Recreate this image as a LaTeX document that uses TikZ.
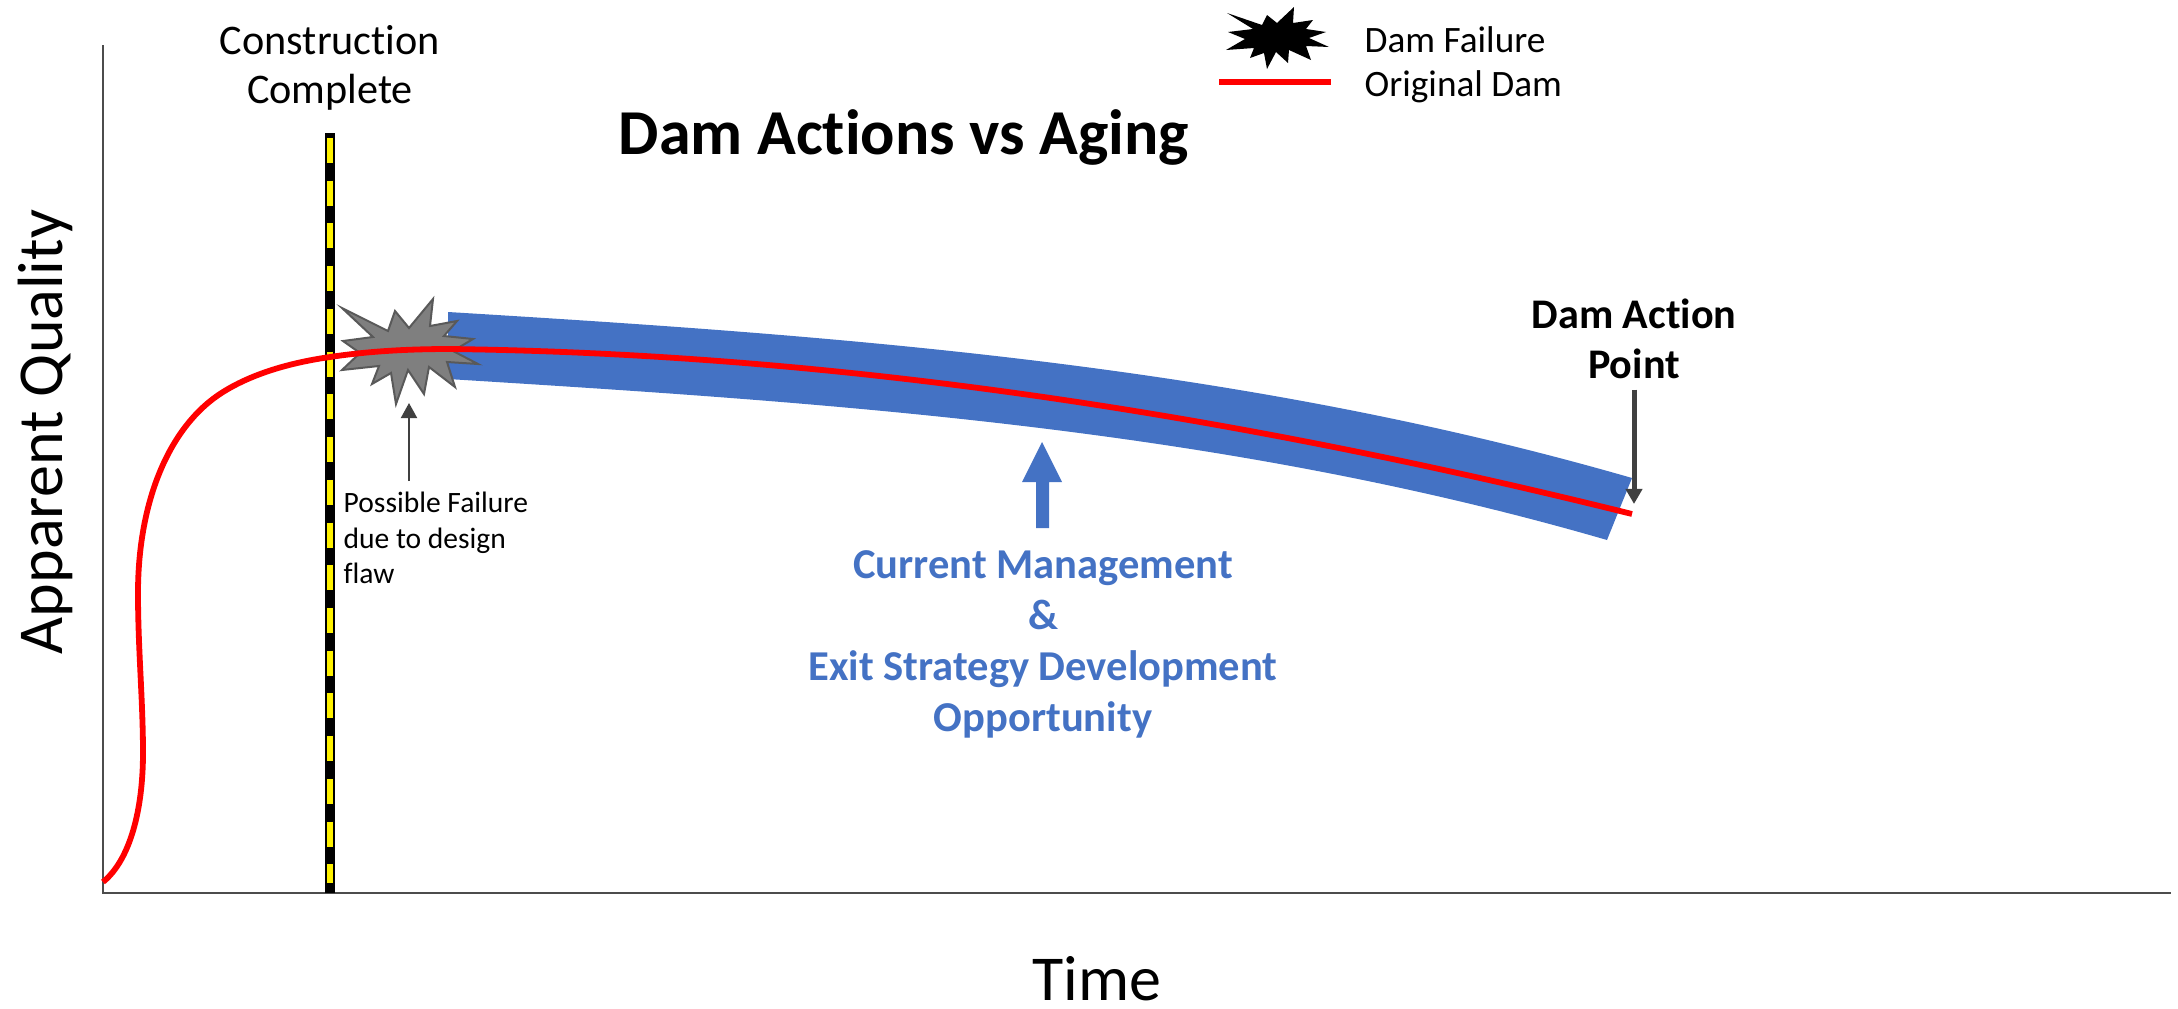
\documentclass[tikz,border=0pt]{standalone}
\usepackage{fontspec}
\setmainfont{Carlito}[Ligatures=NoCommon]
\usetikzlibrary{arrows.meta}
\definecolor{bandblue}{HTML}{4472C4}
\definecolor{burstgray}{HTML}{7F7F7F}
\definecolor{burstedge}{HTML}{595959}
\definecolor{arrowgray}{HTML}{404040}
\tikzset{
    axisline/.style={draw=black!70, line width=0.018cm},
    damline/.style={draw=red, line width=0.058cm},
    callout/.style={draw=arrowgray, -{Triangle[length=0.15cm, width=0.16cm]}},
    bluetext/.style={text=bandblue, font=\fontsize{12.1}{14.5}\selectfont\bfseries, align=center},
    plaintext/.style={font=\fontsize{12}{14}\selectfont, align=center, inner sep=0pt},
}
\begin{document}
\begin{tikzpicture}[x=0.01cm, y=-0.01cm]
        \useasboundingbox (0,0) rectangle (2178,1009);

        \coordinate (top) at (103,45);
        \coordinate (origin) at (103,893);
        \coordinate (right) at (2171,893);
        \coordinate (bartop) at (330,133);
        \coordinate (barbot) at (330,893);
        \coordinate (dashtop) at (330,138);
        \coordinate (dashbot) at (330,883);
        \coordinate (legendL) at (1219,82);
        \coordinate (legendR) at (1331,82);
        \coordinate (bursttip) at (409,403);
        \coordinate (actiontip) at (1634,504);

        % axes
        \draw[axisline] (top) -- (origin) -- (right);

        % construction marker
        \draw[black, line width=0.108cm] (bartop) -- (barbot);
        \draw[yellow, line width=0.066cm, dash pattern=on 0.25cm off 0.177cm] (dashtop) -- (dashbot);

        % action band
        \fill[bandblue] (448,312) .. controls (843,336) and (1237,364) .. (1632,478)
            -- (1607,540) .. controls (1221,428) and (834,403) .. (448,379) -- cycle;

        % failure bursts
        \draw[fill=burstgray, draw=burstedge, line width=0.02cm, miter limit=8]
            (342,308) -- (388,331) -- (395,311) -- (409,328) -- (433,299) -- (430,326) -- (457,321)
            -- (444,336) -- (473,339) -- (453,351) -- (478,364) -- (447,362) -- (455,387) -- (429,367)
            -- (424,394) -- (408,370) -- (396,404) -- (391,373) -- (372,384) -- (379,366) -- (342,370)
            -- (360,353) -- (343,341) -- (373,337) -- cycle;
        \fill[black]
            (1227,13) -- (1262,25) -- (1267,15) -- (1277,23) -- (1294,7) -- (1293,23) -- (1313,20)
            -- (1306,29) -- (1326,32) -- (1309,38) -- (1329,47) -- (1306,46) -- (1311,60) -- (1289,50)
            -- (1288,63) -- (1276,52) -- (1267,69) -- (1264,53) -- (1250,58) -- (1254,48) -- (1226,50)
            -- (1245,39) -- (1228,32) -- (1253,29) -- cycle;

        % original dam
        \draw[damline] (103,882) .. controls (130,860) and (143,810) .. (143,753)
            .. controls (143,700) and (138,650) .. (138,593)
            .. controls (138,500) and (170,425) .. (223,392)
            .. controls (255,372) and (295,362) .. (330,357)
            .. controls (370,351) and (410,349) .. (450,349)
            .. controls (844,354) and (1238,416) .. (1632,514);
        \draw[damline] (legendL) -- (legendR);

        % labels
        \node[plaintext] (construction) at (330,68) {Construction\\Complete};
        \node[font=\fontsize{18.2}{20}\selectfont\bfseries] (title) at (904,137) {Dam Actions vs Aging};
        \node[font=\fontsize{10.6}{12}\selectfont, anchor=west, inner sep=0pt] (failure) at (1364,40) {Dam Failure};
        \node[font=\fontsize{10.6}{12}\selectfont, anchor=west, inner sep=0pt] (original) at (1364,87) {Original Dam};
        \node[font=\fontsize{8.4}{10.2}\selectfont, align=left, anchor=north west, inner sep=0pt] (flaw) at (343,491) {Possible Failure\\due to design\\flaw};
        \node[font=\fontsize{12}{14.2}\selectfont\bfseries, align=center, inner sep=0pt] (action) at (1634,339) {Dam Action\\Point};
        \node[bluetext, inner sep=0pt] (management) at (1043,644) {Current Management\\\&\\Exit Strategy Development\\Opportunity};
        \node[font=\fontsize{18.2}{22}\selectfont, rotate=90, inner sep=0pt] (yaxis) at (45,432) {Apparent Quality};
        \node[font=\fontsize{18.2}{22}\selectfont, inner sep=0pt] (xaxis) at (1097,979) {Time};

        % arrows
        \draw[callout, line width=0.02cm] (409,481) -- (bursttip);
        \draw[callout, line width=0.05cm] (action.south) ++(0,10) -- (actiontip);
        \fill[bandblue] (1042,442) -- (1062,482) -- (1049,482) -- (1049,528) -- (1036,528) -- (1036,482) -- (1022,482) -- cycle;
\end{tikzpicture}
\end{document}
